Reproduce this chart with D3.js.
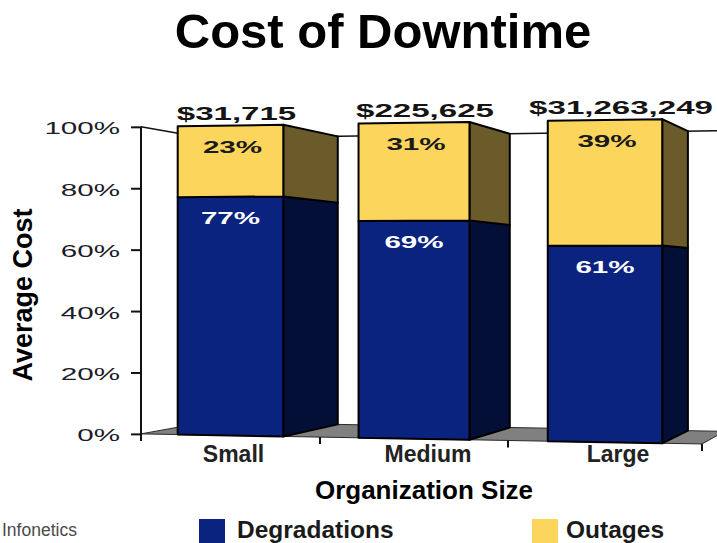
<!DOCTYPE html>
<html><head><meta charset="utf-8">
<script src="https://cdn.jsdelivr.net/npm/d3@7"></script>
<style>
body{margin:0;background:#fff}
svg{display:block}
text{font-family:"Liberation Sans",Arial,Helvetica,sans-serif}
</style>
</head><body>
<svg id="chart" width="717" height="543"></svg>
<script>
// ---- data ----
const categories = ["Small", "Medium", "Large"];
const degradations = [77, 69, 61];   // % of cost
const outages = [23, 31, 39];        // % of cost
const totals = ["$31,715", "$225,625", "$31,263,249"];
const yTicks = [0, 20, 40, 60, 80, 100];
const seriesNames = ["Degradations", "Outages"];

// ---- layout / style ----
const svg = d3.select("#chart");
const FONT_STRETCH = 1.74;
const colors = {
  Degradations: {front: "#0a237f", side: "#030f36"},
  Outages: {front: "#fbd55c", side: "#6b5a2a"}
};
const valueNudge = [6, 11, 16];
const catNudge = [3, 14, 13];

// perspective: every point recedes toward a vanishing point
const VP = [1000, 278], DEPTH = 0.076;
const x = d3.scaleLinear().domain([0, 1, 2, 3]).range([141, 320, 508, 702]);
const topLine = d3.scaleLinear().domain([231, 604]).range([125.5, 120]);
const botLine = d3.scaleLinear().domain([231, 604]).range([435.5, 442.2]);
const yAt = px => d3.scaleLinear().domain([0, 100]).range([botLine(px), topLine(px)]);
const front = (px, v) => [px, yAt(px)(v)];
const back = p => [p[0] + (VP[0] - p[0]) * DEPTH, p[1] + (VP[1] - p[1]) * DEPTH];
const poly = pts => pts.map(p => p.join(",")).join(" ");

// floor
const f0 = front(x(0), 0), f1 = front(x(3), 0);
svg.append("polygon")
  .attr("points", poly([f0, f1, back(f1), back(f0)]))
  .attr("fill", "#808080").attr("stroke", "#2a2a2a").attr("stroke-width", 1);

// wall top edges
const t0 = front(x(0), 100), t1 = front(x(3), 100);
svg.append("polyline")
  .attr("points", poly([t0, back(t0), back(t1)]))
  .attr("fill", "none").attr("stroke", "#111").attr("stroke-width", 1.5);

// category tick marks along the floor's front edge
svg.selectAll("line.ctick").data([1, 2, 3]).join("line")
  .attr("x1", d => x(d)).attr("x2", d => x(d))
  .attr("y1", d => front(x(d), 0)[1]).attr("y2", d => front(x(d), 0)[1] + 7)
  .attr("stroke", "#111").attr("stroke-width", 2);

// value axis
const yAxisScale = yAt(x(0));
svg.append("line")
  .attr("x1", x(0)).attr("x2", x(0))
  .attr("y1", yAxisScale(100)).attr("y2", yAxisScale(0) + 7)
  .attr("stroke", "#111").attr("stroke-width", 2);
const axisG = svg.append("g").attr("transform", `translate(${x(0)},0)`)
  .call(d3.axisLeft(yAxisScale).tickValues(yTicks).tickSize(10).tickSizeOuter(0).tickFormat(d => d + "%"));
axisG.select(".domain").remove();
axisG.selectAll(".tick line").attr("stroke", "#111").attr("stroke-width", 2);
axisG.selectAll(".tick text")
  .attr("x", 0).attr("dy", "0.41em")
  .attr("transform", `translate(-21,0) scale(${FONT_STRETCH},1)`)
  .attr("font-size", 17).attr("fill", "#1c1c28")
  .attr("font-family", "'Liberation Sans',Arial,sans-serif");

// bars
const rows = categories.map((c, i) => ({
  cat: c, i,
  segs: [
    {name: "Degradations", a: 0, b: degradations[i], val: degradations[i]},
    {name: "Outages", a: degradations[i], b: degradations[i] + outages[i], val: outages[i]}
  ]
}));

const barG = svg.append("g");
rows.forEach(r => {
  const x0 = x(r.i + 0.205), x1 = x(r.i + 0.795);
  const g = barG.append("g");
  r.segs.forEach(s => {
    const pa = front(x1, s.a), pb = front(x1, s.b);
    g.append("polygon")
      .attr("points", poly([pa, back(pa), back(pb), pb]))
      .attr("fill", colors[s.name].side).attr("stroke", "#000").attr("stroke-width", 2)
      .attr("stroke-linejoin", "round");
  });
  r.segs.forEach(s => {
    g.append("polygon")
      .attr("points", poly([front(x0, s.a), front(x1, s.a), front(x1, s.b), front(x0, s.b)]))
      .attr("fill", colors[s.name].front).attr("stroke", "#000").attr("stroke-width", 2)
      .attr("stroke-linejoin", "round");
  });
  const cx = (x0 + x1) / 2;
  const ys = yAt(cx);
  // segment percentages
  r.segs.forEach(s => {
    g.append("text")
      .attr("transform", `translate(${cx + (s.name === "Outages" ? 2 : 0)},${ys(s.b) + 27}) scale(${FONT_STRETCH},1)`)
      .attr("text-anchor", "middle").attr("font-size", 17).attr("font-weight", "bold")
      .attr("fill", s.name === "Outages" ? "#1a1a1a" : "#ffffff")
      .text(s.val + "%");
  });
  // total cost on top
  g.append("text")
    .attr("transform", `translate(${cx + valueNudge[r.i]},${ys(100) - 6}) scale(${FONT_STRETCH},1)`)
    .attr("text-anchor", "middle").attr("font-size", 19).attr("font-weight", "bold")
    .attr("fill", "#141414")
    .text(totals[r.i]);
  // category label
  svg.append("text")
    .attr("x", x(r.i + 0.5) + catNudge[r.i]).attr("y", 462)
    .attr("text-anchor", "middle").attr("font-size", 23).attr("font-weight", "bold")
    .attr("fill", "#222")
    .text(r.cat);
});

// titles
svg.append("text").attr("x", 383).attr("y", 48).attr("text-anchor", "middle")
  .attr("font-size", 49).attr("font-weight", "bold").attr("fill", "#000")
  .text("Cost of Downtime");
svg.append("text").attr("transform", "translate(32,295) rotate(-90)")
  .attr("text-anchor", "middle").attr("font-size", 27).attr("font-weight", "bold").attr("fill", "#000")
  .text("Average Cost");
svg.append("text").attr("x", 424).attr("y", 499).attr("text-anchor", "middle")
  .attr("font-size", 26).attr("font-weight", "bold").attr("fill", "#000")
  .text("Organization Size");

// source note
svg.append("text").attr("x", 2).attr("y", 536).attr("text-anchor", "start")
  .attr("font-size", 17.5).attr("fill", "#4a4a4a")
  .text("Infonetics");

// legend
const legendX = [199, 532];
const lg = svg.selectAll("g.legend").data(seriesNames).join("g")
  .attr("transform", (d, i) => `translate(${legendX[i]},519)`);
lg.append("rect").attr("width", 26).attr("height", 26)
  .attr("fill", d => colors[d].front);
lg.append("text").attr("x", d => d === "Outages" ? 34 : 38).attr("y", 19)
  .attr("font-size", 24.5).attr("font-weight", "bold").attr("fill", "#1a1a1a")
  .text(d => d);
</script>
</body></html>
